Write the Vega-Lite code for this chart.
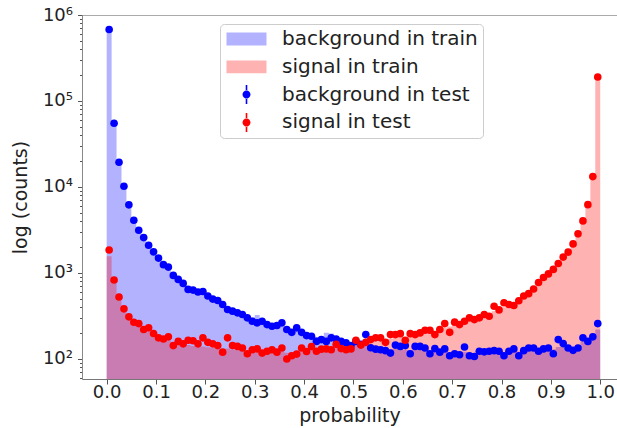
{
  "$schema": "https://vega.github.io/schema/vega-lite/v6.json",
  "width": 535,
  "height": 364,
  "autosize": "none",
  "padding": {"left": 82, "top": 15, "right": 0, "bottom": 49},
  "background": "white",
  "config": {
    "view": {"stroke": "#aaaaaa", "strokeWidth": 1},
    "font": "DejaVu Sans"
  },
  "datasets": {
    "train": [
      {"x":0.00,"bg":650000,"sig":1570},{"x":0.01,"bg":54000,"sig":760},{"x":0.02,"bg":19000,"sig":500},{"x":0.03,"bg":10000,"sig":375},{"x":0.04,"bg":6300,"sig":305},{"x":0.05,"bg":4200,"sig":265},{"x":0.06,"bg":3200,"sig":240},{"x":0.07,"bg":2600,"sig":220},{"x":0.08,"bg":2150,"sig":208},{"x":0.09,"bg":1780,"sig":195},
      {"x":0.10,"bg":1500,"sig":180},{"x":0.11,"bg":1280,"sig":170},{"x":0.12,"bg":1130,"sig":165},{"x":0.13,"bg":980,"sig":155},{"x":0.14,"bg":860,"sig":152},{"x":0.15,"bg":770,"sig":148},{"x":0.16,"bg":690,"sig":145},{"x":0.17,"bg":640,"sig":142},{"x":0.18,"bg":600,"sig":140},{"x":0.19,"bg":570,"sig":140},
      {"x":0.20,"bg":530,"sig":137},{"x":0.21,"bg":495,"sig":135},{"x":0.22,"bg":465,"sig":132},{"x":0.23,"bg":430,"sig":130},{"x":0.24,"bg":400,"sig":132},{"x":0.25,"bg":380,"sig":128},{"x":0.26,"bg":360,"sig":127},{"x":0.27,"bg":340,"sig":125},{"x":0.28,"bg":320,"sig":122},{"x":0.29,"bg":305,"sig":123},
      {"x":0.30,"bg":325,"sig":122},{"x":0.31,"bg":285,"sig":120},{"x":0.32,"bg":268,"sig":120},{"x":0.33,"bg":255,"sig":121},{"x":0.34,"bg":250,"sig":120},{"x":0.35,"bg":245,"sig":122},{"x":0.36,"bg":228,"sig":118},{"x":0.37,"bg":218,"sig":119},{"x":0.38,"bg":212,"sig":120},{"x":0.39,"bg":202,"sig":123},
      {"x":0.40,"bg":195,"sig":122},{"x":0.41,"bg":188,"sig":125},{"x":0.42,"bg":180,"sig":124},{"x":0.43,"bg":176,"sig":126},{"x":0.44,"bg":202,"sig":128},{"x":0.45,"bg":198,"sig":130},{"x":0.46,"bg":168,"sig":133},{"x":0.47,"bg":162,"sig":134},{"x":0.48,"bg":156,"sig":136},{"x":0.49,"bg":152,"sig":139},
      {"x":0.50,"bg":150,"sig":145},{"x":0.51,"bg":147,"sig":146},{"x":0.52,"bg":150,"sig":150},{"x":0.53,"bg":140,"sig":155},{"x":0.54,"bg":137,"sig":160},{"x":0.55,"bg":134,"sig":163},{"x":0.56,"bg":132,"sig":166},{"x":0.57,"bg":130,"sig":172},{"x":0.58,"bg":134,"sig":176},{"x":0.59,"bg":132,"sig":180},
      {"x":0.60,"bg":128,"sig":180},{"x":0.61,"bg":126,"sig":186},{"x":0.62,"bg":128,"sig":190},{"x":0.63,"bg":127,"sig":196},{"x":0.64,"bg":124,"sig":203},{"x":0.65,"bg":122,"sig":210},{"x":0.66,"bg":124,"sig":212},{"x":0.67,"bg":121,"sig":222},{"x":0.68,"bg":122,"sig":232},{"x":0.69,"bg":119,"sig":238},
      {"x":0.70,"bg":118,"sig":255},{"x":0.71,"bg":119,"sig":262},{"x":0.72,"bg":121,"sig":275},{"x":0.73,"bg":117,"sig":290},{"x":0.74,"bg":117,"sig":295},{"x":0.75,"bg":120,"sig":305},{"x":0.76,"bg":121,"sig":320},{"x":0.77,"bg":122,"sig":330},{"x":0.78,"bg":122,"sig":360},{"x":0.79,"bg":121,"sig":375},
      {"x":0.80,"bg":120,"sig":400},{"x":0.81,"bg":123,"sig":420},{"x":0.82,"bg":124,"sig":435},{"x":0.83,"bg":122,"sig":465},{"x":0.84,"bg":126,"sig":510},{"x":0.85,"bg":128,"sig":550},{"x":0.86,"bg":129,"sig":620},{"x":0.87,"bg":127,"sig":720},{"x":0.88,"bg":130,"sig":820},{"x":0.89,"bg":132,"sig":910},
      {"x":0.90,"bg":130,"sig":1030},{"x":0.91,"bg":138,"sig":1220},{"x":0.92,"bg":140,"sig":1440},{"x":0.93,"bg":138,"sig":1680},{"x":0.94,"bg":138,"sig":2080},{"x":0.95,"bg":142,"sig":2700},{"x":0.96,"bg":160,"sig":3850},{"x":0.97,"bg":165,"sig":6000},{"x":0.98,"bg":178,"sig":12400},{"x":0.99,"bg":220,"sig":185000},
      {"x":1.00,"bg":220,"sig":185000}
    ],
    "test": [
      {"x":0.005,"bg":678000,"sig":1850},{"x":0.015,"bg":55200,"sig":829},{"x":0.025,"bg":19400,"sig":525},{"x":0.035,"bg":10200,"sig":383},{"x":0.045,"bg":6200,"sig":309},{"x":0.055,"bg":4110,"sig":267},{"x":0.065,"bg":3140,"sig":258},{"x":0.075,"bg":2580,"sig":220},{"x":0.085,"bg":2100,"sig":230},{"x":0.095,"bg":1760,"sig":198},
      {"x":0.105,"bg":1490,"sig":176},{"x":0.115,"bg":1250,"sig":171},{"x":0.125,"bg":1170,"sig":181},{"x":0.135,"bg":937,"sig":143},{"x":0.145,"bg":842,"sig":160},{"x":0.155,"bg":756,"sig":150},{"x":0.165,"bg":644,"sig":165},{"x":0.175,"bg":632,"sig":163},{"x":0.185,"bg":600,"sig":150},{"x":0.195,"bg":608,"sig":176},
      {"x":0.205,"bg":540,"sig":156},{"x":0.215,"bg":497,"sig":150},{"x":0.225,"bg":479,"sig":143},{"x":0.235,"bg":430,"sig":120},{"x":0.245,"bg":376,"sig":176},{"x":0.255,"bg":360,"sig":143},{"x":0.265,"bg":344,"sig":140},{"x":0.275,"bg":329,"sig":134},{"x":0.285,"bg":301,"sig":115},{"x":0.295,"bg":275,"sig":128},
      {"x":0.305,"bg":263,"sig":131},{"x":0.315,"bg":275,"sig":117},{"x":0.325,"bg":251,"sig":123},{"x":0.335,"bg":240,"sig":128},{"x":0.345,"bg":245,"sig":120},{"x":0.355,"bg":263,"sig":134},{"x":0.365,"bg":220,"sig":100},{"x":0.375,"bg":204,"sig":109},{"x":0.385,"bg":230,"sig":114},{"x":0.395,"bg":204,"sig":134},
      {"x":0.405,"bg":187,"sig":122},{"x":0.415,"bg":184,"sig":139},{"x":0.425,"bg":160,"sig":123},{"x":0.435,"bg":168,"sig":130},{"x":0.445,"bg":160,"sig":131},{"x":0.455,"bg":176,"sig":128},{"x":0.465,"bg":171,"sig":148},{"x":0.475,"bg":160,"sig":132},{"x":0.485,"bg":154,"sig":128},{"x":0.495,"bg":143,"sig":131},
      {"x":0.505,"bg":160,"sig":165},{"x":0.515,"bg":148,"sig":145},{"x":0.525,"bg":192,"sig":156},{"x":0.535,"bg":135,"sig":168},{"x":0.545,"bg":130,"sig":176},{"x":0.555,"bg":128,"sig":176},{"x":0.565,"bg":125,"sig":156},{"x":0.575,"bg":117,"sig":192},{"x":0.585,"bg":145,"sig":192},{"x":0.595,"bg":140,"sig":197},
      {"x":0.605,"bg":143,"sig":165},{"x":0.615,"bg":115,"sig":197},{"x":0.625,"bg":140,"sig":192},{"x":0.635,"bg":140,"sig":201},{"x":0.645,"bg":134,"sig":216},{"x":0.655,"bg":115,"sig":216},{"x":0.665,"bg":132,"sig":192},{"x":0.675,"bg":120,"sig":220},{"x":0.685,"bg":131,"sig":258},{"x":0.695,"bg":109,"sig":204},
      {"x":0.705,"bg":115,"sig":268},{"x":0.715,"bg":112,"sig":251},{"x":0.725,"bg":138,"sig":275},{"x":0.735,"bg":109,"sig":301},{"x":0.745,"bg":107,"sig":287},{"x":0.755,"bg":123,"sig":301},{"x":0.765,"bg":121,"sig":329},{"x":0.775,"bg":123,"sig":314},{"x":0.785,"bg":125,"sig":411},{"x":0.795,"bg":123,"sig":372},
      {"x":0.805,"bg":109,"sig":450},{"x":0.815,"bg":123,"sig":430},{"x":0.825,"bg":131,"sig":418},{"x":0.835,"bg":109,"sig":475},{"x":0.845,"bg":125,"sig":540},{"x":0.855,"bg":134,"sig":575},{"x":0.865,"bg":134,"sig":652},{"x":0.875,"bg":123,"sig":776},{"x":0.885,"bg":131,"sig":887},{"x":0.895,"bg":134,"sig":975},
      {"x":0.905,"bg":115,"sig":1100},{"x":0.915,"bg":168,"sig":1290},{"x":0.925,"bg":151,"sig":1530},{"x":0.935,"bg":134,"sig":1750},{"x":0.945,"bg":126,"sig":2180},{"x":0.955,"bg":134,"sig":2850},{"x":0.965,"bg":176,"sig":4030},{"x":0.975,"bg":160,"sig":6230},{"x":0.985,"bg":181,"sig":13200},{"x":0.995,"bg":258,"sig":190000}
    ]
  },
  "encoding": {
    "x": {
      "field": "x", "type": "quantitative",
      "scale": {"domain": [-0.05, 1.034], "nice": false, "zero": false},
      "axis": {
        "values": [0, 0.1, 0.2, 0.3, 0.4, 0.5, 0.6, 0.7, 0.8, 0.9, 1.0],
        "format": ".1f", "grid": false,
        "labelFont": "DejaVu Sans", "labelFontSize": 18, "labelColor": "#222222", "labelPadding": -1,
        "tickSize": 5, "tickColor": "#555555", "domainColor": "#777777",
        "title": "probability", "titleFont": "DejaVu Sans", "titleFontSize": 19, "titleFontWeight": "normal", "titleColor": "#222222", "titlePadding": 5
      }
    }
  },
  "layer": [
    {
      "data": {"name": "train"},
      "mark": {"type": "area", "interpolate": "step-after", "opacity": 0.3, "clip": true},
      "encoding": {
        "y": {
          "field": "bg", "type": "quantitative",
          "scale": {"type": "log", "domain": [58.5, 1000000], "nice": false},
          "axis": {
            "values": [60,70,80,90,100,200,300,400,500,600,700,800,900,1000,2000,3000,4000,5000,6000,7000,8000,9000,10000,20000,30000,40000,50000,60000,70000,80000,90000,100000,200000,300000,400000,500000,600000,700000,800000,900000,1000000],
            "labelExpr": "datum.value == 100 ? '10²' : datum.value == 1000 ? '10³' : datum.value == 10000 ? '10⁴' : datum.value == 100000 ? '10⁵' : datum.value == 1000000 ? '10⁶' : ''",
            "labelOverlap": false, "labelBound": false, "grid": false,
            "labelFont": "DejaVu Sans", "labelFontSize": 18, "labelColor": "#222222", "labelPadding": 5,
            "tickSize": {"condition": {"test": "indexof([100,1000,10000,100000,1000000], datum.value) >= 0", "value": 4.5}, "value": 2.5},
            "tickColor": "#555555", "domainColor": "#888888",
            "title": "log (counts)", "titleFont": "DejaVu Sans", "titleFontSize": 19, "titleFontWeight": "normal", "titleColor": "#222222", "titlePadding": 12
          }
        },
        "y2": {"datum": 1},
        "color": {
          "datum": "background in train",
          "scale": {
            "domain": ["background in train", "signal in train", "background in test", "signal in test"],
            "range": ["#0000ff", "#ff0000", "#0000ff", "#ff0000"]
          },
          "legend": {
            "orient": "none", "legendX": 138, "legendY": 9, "title": null,
            "labelExpr": "indexof(datum.label, 'test') >= 0 ? '' : datum.label",
            "labelFont": "DejaVu Sans", "labelFontSize": 20, "labelColor": "#222222", "labelLimit": 400,
            "symbolSize": 400, "symbolOffset": 11.5, "labelOffset": 25.5, "symbolStrokeWidth": 0,
            "symbolType": "M-2,-0.64H2V0.64H-2Z M0,-1L0,-1 M0,1L0,1", "symbolOpacity": 0.3,
            "rowPadding": 7.8, "padding": 5,
            "strokeColor": "#cccccc", "fillColor": "white", "cornerRadius": 4
          }
        }
      }
    },
    {
      "data": {"name": "train"},
      "mark": {"type": "area", "interpolate": "step-after", "opacity": 0.3, "clip": true},
      "encoding": {
        "y": {"field": "sig", "type": "quantitative"},
        "y2": {"datum": 1},
        "color": {
          "datum": "signal in train",
          "legend": {
            "orient": "none", "legendX": 138, "legendY": 9, "title": null,
            "labelExpr": "indexof(datum.label, 'test') >= 0 ? '' : datum.label",
            "labelFont": "DejaVu Sans", "labelFontSize": 20, "labelColor": "#222222", "labelLimit": 400,
            "symbolSize": 400, "symbolOffset": 11.5, "labelOffset": 25.5, "symbolStrokeWidth": 0,
            "symbolType": "M-2,-0.64H2V0.64H-2Z M0,-1L0,-1 M0,1L0,1", "symbolOpacity": 0.3,
            "rowPadding": 7.8, "padding": 5,
            "strokeColor": "#cccccc", "fillColor": "white", "cornerRadius": 4
          }
        }
      }
    },
    {
      "data": {"name": "test"},
      "mark": {"type": "point", "filled": true, "size": 58, "opacity": 1},
      "encoding": {
        "y": {"field": "bg", "type": "quantitative"},
        "fill": {
          "datum": "background in test",
          "scale": {
            "domain": ["background in test", "signal in test"],
            "range": ["#0000ff", "#ff0000"]
          },
          "legend": {
            "orient": "none", "legendX": 140, "legendY": 66.6, "title": null,
            "labelFont": "DejaVu Sans", "labelFontSize": 20, "labelColor": "#222222", "labelLimit": 400,
            "symbolSize": 400, "symbolOffset": 11.5, "labelOffset": 25.5, "symbolStrokeWidth": 0,
            "symbolType": "M-0.4,0A0.4,0.4 0 1,0 0.4,0A0.4,0.4 0 1,0 -0.4,0Z M-0.08,-0.95H0.08V-0.35H-0.08Z M-0.08,0.35H0.08V0.95H-0.08Z M0,-1L0,-1 M0,1L0,1", "symbolOpacity": 1,
            "rowPadding": 7.8, "padding": 3,
            "strokeColor": null, "fillColor": "white"
          }
        }
      }
    },
    {
      "data": {"name": "test"},
      "mark": {"type": "point", "filled": true, "size": 58, "opacity": 1},
      "encoding": {
        "y": {"field": "sig", "type": "quantitative"},
        "fill": {
          "datum": "signal in test",
          "legend": {
            "orient": "none", "legendX": 140, "legendY": 66.6, "title": null,
            "labelFont": "DejaVu Sans", "labelFontSize": 20, "labelColor": "#222222", "labelLimit": 400,
            "symbolSize": 400, "symbolOffset": 11.5, "labelOffset": 25.5, "symbolStrokeWidth": 0,
            "symbolType": "M-0.4,0A0.4,0.4 0 1,0 0.4,0A0.4,0.4 0 1,0 -0.4,0Z M-0.08,-0.95H0.08V-0.35H-0.08Z M-0.08,0.35H0.08V0.95H-0.08Z M0,-1L0,-1 M0,1L0,1", "symbolOpacity": 1,
            "rowPadding": 7.8, "padding": 3,
            "strokeColor": null, "fillColor": "white"
          }
        }
      }
    }
  ]
}
